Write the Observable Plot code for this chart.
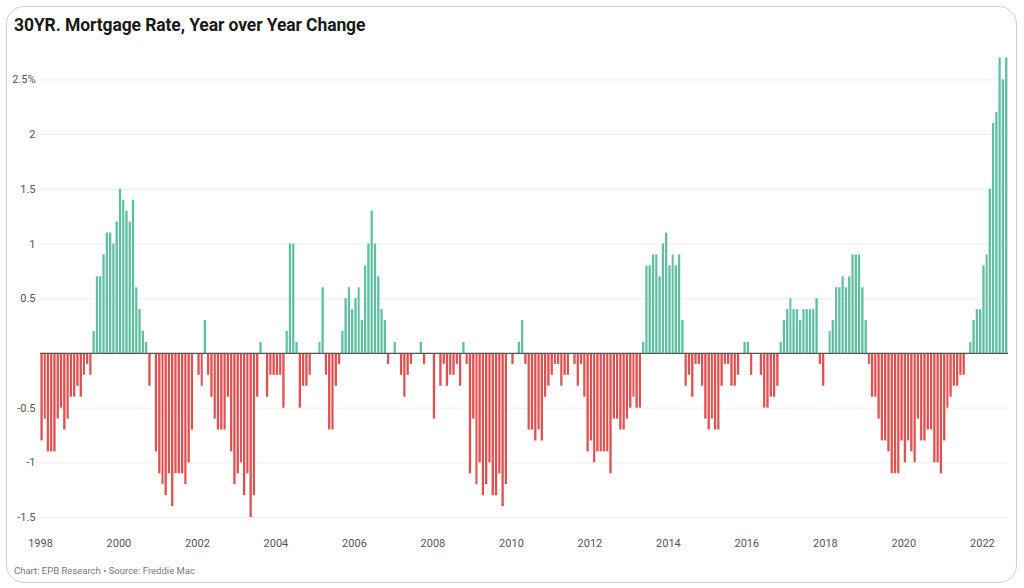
<!DOCTYPE html>
<html><head><meta charset="utf-8">
<script src="https://cdn.jsdelivr.net/npm/d3@7"></script>
<script src="https://cdn.jsdelivr.net/npm/@observablehq/plot@0.6"></script>
<style>
html,body{margin:0;padding:0;background:#fff;}
body{width:1024px;height:588px;position:relative;overflow:hidden;font-family:Roboto,"Noto Sans",sans-serif;}
#card{position:absolute;left:6px;top:6px;width:1011px;height:577px;border:1.5px solid #cfcfcf;border-radius:18px;box-sizing:border-box;}
#title{position:absolute;left:14px;top:15px;font-size:17.5px;font-weight:700;color:#1a1a1a;letter-spacing:-0.1px;}
#chart{position:absolute;left:0;top:44px;}
#foot{position:absolute;left:14px;top:565px;font-size:9.5px;color:#777;}
</style></head><body>
<div id="card"></div>
<div id="title">30YR. Mortgage Rate, Year over Year Change</div>
<div id="chart"></div>
<div id="foot">Chart: EPB Research • Source: Freddie Mac</div>
<script>
// Monthly year-over-year change (percentage points), Jan of each year onward
const v1998 = [-0.8,-0.6,-0.9,-0.9,-0.9,-0.6,-0.5,-0.7,-0.6,-0.4,-0.4,-0.3];
const v1999 = [-0.4,-0.2,-0.1,-0.2,0.2,0.7,0.7,0.9,1.1,1.1,1.0,1.2];
const v2000 = [1.5,1.4,1.3,1.2,1.4,0.6,0.4,0.2,0.1,-0.3,0,-0.9];
const v2001 = [-1.1,-1.2,-1.3,-1.1,-1.4,-1.1,-1.1,-1.1,-1.2,-1.0,-0.7,0];
const v2002 = [-0.2,-0.3,0.3,-0.2,-0.4,-0.6,-0.7,-0.7,-0.7,-0.4,-0.9,-1.2];
const v2003 = [-1.1,-1.0,-1.3,-1.1,-1.5,-1.3,-0.4,0.1,0,-0.4,-0.2,-0.2];
const v2004 = [-0.2,-0.2,-0.5,0.2,1.0,1.0,0.1,-0.5,-0.3,-0.3,-0.2,0];
const v2005 = [0,0.1,0.6,-0.2,-0.7,-0.7,-0.3,-0.1,0.2,0.5,0.6,0.4];
const v2006 = [0.5,0.6,0.3,0.8,1.0,1.3,1.0,0.7,0.4,0.3,-0.1,0];
const v2007 = [0.1,0,-0.2,-0.4,-0.2,-0.1,0,0,0.1,-0.1,0,0];
const v2008 = [-0.6,0,-0.3,-0.1,-0.3,-0.2,-0.2,-0.1,-0.3,0.1,-0.1,-1.1];
const v2009 = [-0.6,-1.2,-1.0,-1.3,-1.2,-1.0,-1.3,-1.3,-1.1,-1.4,-1.2,0];
const v2010 = [-0.1,0,0.1,0.3,-0.1,-0.7,-0.7,-0.8,-0.7,-0.8,-0.4,-0.3];
const v2011 = [-0.2,-0.1,-0.1,-0.3,-0.2,-0.2,0,-0.1,-0.3,-0.1,-0.4,-0.9];
const v2012 = [-0.8,-1.0,-0.9,-0.9,-0.9,-0.9,-1.1,-0.6,-0.6,-0.7,-0.7,-0.6];
const v2013 = [-0.5,-0.4,-0.5,-0.5,0.1,0.8,0.8,0.9,0.9,0.7,1.0,1.1];
const v2014 = [0.8,0.9,0.8,0.9,0.3,-0.3,-0.2,-0.4,-0.1,-0.1,-0.3,-0.6];
const v2015 = [-0.7,-0.6,-0.7,-0.7,-0.3,-0.1,-0.1,-0.3,-0.3,-0.2,0,0.1];
const v2016 = [0.1,-0.2,0,0,-0.2,-0.5,-0.5,-0.4,-0.4,-0.3,0.1,0.3];
const v2017 = [0.4,0.5,0.4,0.4,0.3,0.4,0.4,0.4,0.4,0.5,-0.1,-0.3];
const v2018 = [0,0.2,0.3,0.6,0.6,0.7,0.6,0.7,0.9,0.9,0.9,0.6];
const v2019 = [0.3,-0.1,-0.4,-0.4,-0.6,-0.8,-0.8,-0.9,-1.1,-1.1,-1.1,-0.8];
const v2020 = [-1.0,-0.8,-0.9,-1.0,-0.6,-0.8,-0.8,-0.7,-0.7,-1.0,-1.0,-1.1];
const v2021 = [-0.8,-0.5,-0.4,-0.3,-0.3,-0.2,-0.2,0,0.1,0.3,0.4,0.4];
const v2022 = [0.8,0.9,1.5,2.1,2.2,2.7,2.5,2.7];

const years = [1998,1999,2000,2001,2002,2003,2004,2005,2006,2007,2008,2009,2010,2011,2012,2013,2014,2015,2016,2017,2018,2019,2020,2021,2022];
const series = [v1998,v1999,v2000,v2001,v2002,v2003,v2004,v2005,v2006,v2007,v2008,v2009,v2010,v2011,v2012,v2013,v2014,v2015,v2016,v2017,v2018,v2019,v2020,v2021,v2022];

const xTickYears = [1998,2000,2002,2004,2006,2008,2010,2012,2014,2016,2018,2020,2022];
const yTicks = [-1.5,-1,-0.5,0.5,1,1.5,2,2.5];
const yTickLabels = ["-1.5","-1","-0.5","0.5","1","1.5","2","2.5%"];

const data = [];
years.forEach((yr, k) => {
  series[k].forEach((v, m) => {
    data.push({date: new Date(Date.UTC(yr, m, 1)), end: new Date(Date.UTC(yr, m + 1, 1)), value: v});
  });
});

const GREEN = "#5fc0a1";
const RED = "#df5150";

const chart = Plot.plot({
  width: 1024,
  height: 506,
  marginLeft: 40,
  marginRight: 16,
  marginTop: 8,
  marginBottom: 22,
  style: {fontFamily: "Roboto, 'Noto Sans', sans-serif", fontSize: "11px", color: "#555", background: "transparent", overflow: "visible"},
  x: {
    type: "utc",
    domain: [new Date(Date.UTC(1998, 0, 1)), new Date(Date.UTC(2022, 8, 1))],
    ticks: xTickYears.map(y => new Date(Date.UTC(y, 0, 1))),
    tickFormat: d3.utcFormat("%Y"),
    tickSize: 0,
    tickPadding: 11,
    label: null
  },
  y: {
    domain: [-1.6, 2.75],
    ticks: yTicks,
    tickFormat: d => yTickLabels[yTicks.indexOf(d)],
    tickSize: 0,
    tickPadding: 5,
    grid: true,
    label: null
  },
  marks: [
    Plot.rectY(data.filter(d => d.value > 0), {x1: "date", x2: "end", y: "value", fill: GREEN, insetLeft: 0.4, insetRight: 0.6}),
    Plot.rectY(data.filter(d => d.value < 0), {x1: "date", x2: "end", y: "value", fill: RED, insetLeft: 0.4, insetRight: 0.6}),
    Plot.ruleY([0], {stroke: "#555", strokeWidth: 1.2})
  ]
});
document.getElementById("chart").appendChild(chart);
</script>
</body></html>
